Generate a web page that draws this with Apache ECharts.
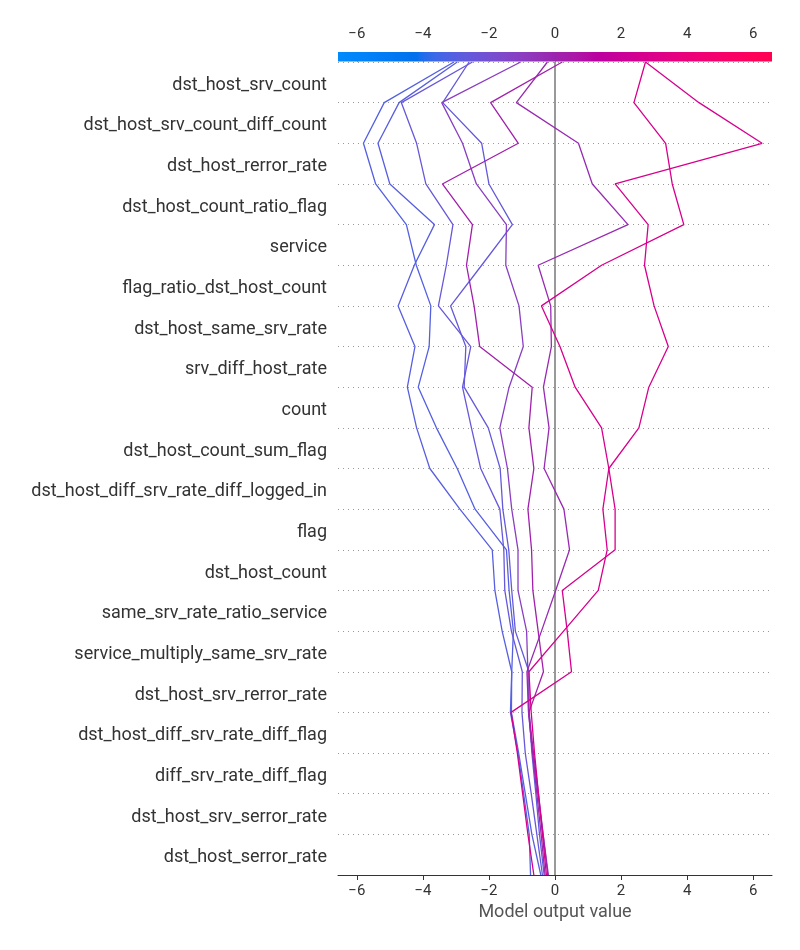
<!DOCTYPE html>
<html>
<head>
<meta charset="utf-8">
<script src="https://cdn.jsdelivr.net/npm/echarts@6/dist/echarts.min.js"></script>
<style>html,body{margin:0;padding:0;background:#fff}#c{width:800px;height:950px}</style>
</head>
<body>
<div id="c"></div>
<script>
// Features, top to bottom
const features = [
  "dst_host_srv_count", "dst_host_srv_count_diff_count", "dst_host_rerror_rate",
  "dst_host_count_ratio_flag", "service", "flag_ratio_dst_host_count",
  "dst_host_same_srv_rate", "srv_diff_host_rate", "count", "dst_host_count_sum_flag",
  "dst_host_diff_srv_rate_diff_logged_in", "flag", "dst_host_count",
  "same_srv_rate_ratio_service", "service_multiply_same_srv_rate",
  "dst_host_srv_rerror_rate", "dst_host_diff_srv_rate_diff_flag",
  "diff_srv_rate_diff_flag", "dst_host_srv_serror_rate", "dst_host_serror_rate"
];
const xTicks = [-6, -4, -2, 0, 2, 4, 6];
const xRange = [-6.57, 6.57];
const baseValue = 0;
const axisTitle = "Model output value";

// Cumulative model output per line, from bottom boundary (k=0) to top (k=20)
const line1 = [-0.74, -0.78, -0.95, -1.12, -1.35, -1.31, -1.26, -1.39, -1.47, -2.42, -2.96, -3.59, -4.14, -3.81, -3.76, -4.20, -4.50, -5.43, -5.80, -5.17, -3.06];
const line2 = [-0.43, -0.70, -0.90, -1.10, -1.32, -1.31, -1.60, -1.82, -1.90, -2.88, -3.79, -4.19, -4.47, -4.24, -4.75, -4.26, -3.65, -5.00, -5.36, -4.72, -2.96];
const line3 = [-0.38, -0.55, -0.72, -0.90, -1.00, -0.99, -1.32, -1.52, -1.55, -1.67, -2.25, -2.53, -2.80, -2.55, -3.53, -3.29, -3.09, -3.91, -4.19, -4.65, -2.50];
const line4 = [-0.33, -0.47, -0.58, -0.70, -0.78, -0.79, -1.20, -1.31, -1.40, -1.58, -1.66, -2.02, -2.75, -2.70, -3.16, -2.22, -1.29, -2.00, -2.22, -3.40, -2.60];
const line5 = [-0.20, -0.36, -0.52, -0.68, -0.80, -0.82, -0.86, -1.12, -1.12, -1.31, -1.44, -1.67, -1.39, -0.96, -1.09, -1.49, -1.47, -2.38, -2.80, -3.43, -1.04];
const line6 = [-0.30, -0.42, -0.55, -0.68, -0.80, -0.85, -0.41, 0.02, 0.44, 0.27, -0.33, -0.18, -0.35, -0.11, -0.13, -0.51, 2.21, 1.13, 0.71, -1.17, -0.23];
const line7 = [-0.22, -0.36, -0.50, -0.65, -0.79, -0.35, -0.51, -0.67, -0.71, -0.82, -0.64, -0.79, -0.69, -2.28, -2.45, -2.68, -2.50, -3.41, -1.11, -1.95, 0.22];
const line8 = [-0.26, -0.38, -0.50, -0.62, -0.72, -0.79, 0.26, 1.31, 1.58, 1.45, 1.63, 1.41, 0.61, 0.15, -0.41, 1.41, 3.90, 3.55, 3.35, 2.39, 2.74];
const line9 = [-0.64, -0.82, -0.98, -1.14, -1.33, 0.50, 0.37, 0.22, 1.82, 1.82, 1.63, 2.54, 2.84, 3.43, 3.00, 2.71, 2.82, 1.82, 6.27, 4.36, 2.74];
const lines = [line1, line2, line3, line4, line5, line6, line7, line8, line9];

// shap red_blue colormap (LCH interpolation with gamut clipping)
function lch2hex(L, C, h) {
  const a = C * Math.cos(h), b = C * Math.sin(h);
  const fy = (L + 16) / 116, fx = fy + a / 500, fz = fy - b / 200;
  const finv = t => t > 6 / 29 ? t * t * t : 3 * (6 / 29) * (6 / 29) * (t - 4 / 29);
  const X = 0.95047 * finv(fx), Y = finv(fy), Z = 1.08883 * finv(fz);
  let r = 3.2406 * X - 1.5372 * Y - 0.4986 * Z;
  let g = -0.9689 * X + 1.8758 * Y + 0.0415 * Z;
  let bl = 0.0557 * X - 0.2040 * Y + 1.0570 * Z;
  const gam = c => { c = Math.min(1, Math.max(0, c)); return c <= 0.0031308 ? 12.92 * c : 1.055 * Math.pow(c, 1 / 2.4) - 0.055; };
  const hx = c => ('0' + Math.round(gam(c) * 255).toString(16)).slice(-2);
  return '#' + hx(r) + hx(g) + hx(bl);
}
function redBlue(t) {
  t = Math.min(1, Math.max(0, t));
  const L = t < 0.5 ? 54 + (40 - 54) * (t / 0.5) : 40 + (54 - 40) * ((t - 0.5) / 0.5);
  const C = 70 + (90 - 70) * t;
  const h = 4.6588 + (0.35470565 + 2 * Math.PI - 4.6588) * t;
  return lch2hex(L, C, h);
}
const cbStops = [];
for (let i = 0; i <= 100; i++) cbStops.push({ offset: i / 100, color: redBlue(i / 100) });

const fmt = v => v < 0 ? '\u2212' + Math.abs(v) : String(v);
const font = 'Roboto';

const series = [];
series.push({
  type: 'line', xAxisIndex: 0, yAxisIndex: 0, symbol: 'none', silent: true, z: 1,
  data: [[baseValue, 0], [baseValue, features.length]],
  lineStyle: { color: '#999999', width: 2 }
});
lines.forEach((arr, i) => {
  const final = arr[arr.length - 1];
  const col = redBlue((final - xRange[0]) / (xRange[1] - xRange[0]));
  series.push({
    type: 'line', xAxisIndex: 0, yAxisIndex: 0, symbol: 'none', z: 3,
    data: arr.map((v, k) => [v, k]),
    lineStyle: { color: col, width: 1.3 }
  });
});
series.push({
  type: 'custom', xAxisIndex: 1, yAxisIndex: 2, silent: true,
  data: [[xRange[0], xRange[1]]],
  renderItem: function (params, api) {
    const p0 = api.coord([api.value(0), 1]);
    const p1 = api.coord([api.value(1), 0]);
    return {
      type: 'rect',
      shape: { x: p0[0], y: p0[1], width: p1[0] - p0[0], height: p1[1] - p0[1] },
      style: { fill: new echarts.graphic.LinearGradient(0, 0, 1, 0, cbStops) }
    };
  }
});

const chart = echarts.init(document.getElementById('c'), null, { renderer: 'canvas' });
chart.setOption({
  animation: false,
  backgroundColor: '#ffffff',
  textStyle: { fontFamily: font },
  grid: [
    { left: 338, right: 28, top: 62, bottom: 75, outerBoundsMode: 'none' },
    { left: 338, right: 28, top: 52, height: 9.5, outerBoundsMode: 'none' },
    { left: 338, right: 28, top: 65, bottom: 72, outerBoundsMode: 'none' }
  ],
  xAxis: [
    {
      type: 'value', gridIndex: 0, min: xRange[0], max: xRange[1], position: 'bottom',
      name: axisTitle, nameLocation: 'middle', nameGap: 28,
      nameTextStyle: { fontSize: 18, color: '#555555', fontFamily: font },
      axisLine: { show: true, lineStyle: { color: '#333333', width: 1 } },
      axisTick: { show: true, length: 5, customValues: xTicks, lineStyle: { color: '#333333' } },
      axisLabel: { customValues: xTicks, formatter: fmt, fontSize: 15, color: '#333333', margin: 9, fontFamily: font },
      splitLine: { show: false }
    },
    {
      type: 'value', gridIndex: 1, min: xRange[0], max: xRange[1], position: 'top',
      axisLine: { show: false },
      axisTick: { show: true, length: 4, customValues: xTicks, lineStyle: { color: '#333333' } },
      axisLabel: { customValues: xTicks, formatter: fmt, fontSize: 15, color: '#333333', margin: 10, fontFamily: font },
      splitLine: { show: false }
    },
    { type: 'value', gridIndex: 2, min: xRange[0], max: xRange[1], show: false }
  ],
  yAxis: [
    {
      type: 'value', gridIndex: 0, min: 0, max: features.length, interval: 1,
      axisLine: { show: false }, axisTick: { show: false }, axisLabel: { show: false },
      splitLine: { show: true, lineStyle: { color: '#999999', width: 1, type: [1, 4] } }
    },
    { type: 'value', gridIndex: 1, min: 0, max: 1, show: false },
    {
      type: 'category', gridIndex: 2, data: features, inverse: true, position: 'left',
      axisLine: { show: false }, axisTick: { show: false }, splitLine: { show: false },
      axisLabel: { fontSize: 18, color: '#333333', margin: 11, fontFamily: font }
    }
  ],
  series: series.map(s => s.type === 'custom' ? Object.assign(s, { yAxisIndex: 1 }) : s)
});
</script>
</body>
</html>
